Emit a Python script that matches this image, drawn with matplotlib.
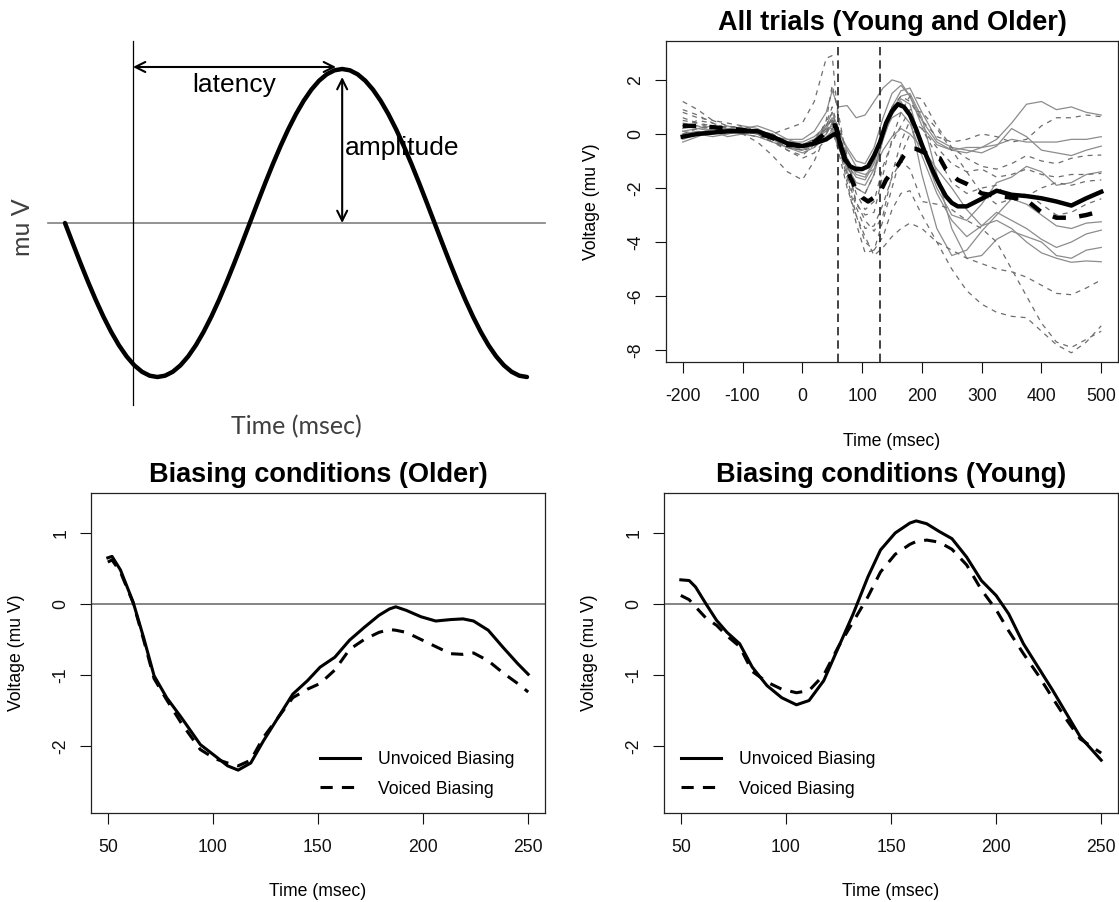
import matplotlib
matplotlib.use('Agg')
import matplotlib.pyplot as plt

plt.rcParams['font.family'] = ['Liberation Sans', 'DejaVu Sans']
plt.rcParams['axes.unicode_minus'] = False

# ---------------- data ----------------

# schematic ERP wave (top left), sampled every 7.5 degrees of phase
schematic_wave = [0, -0.1305, -0.2588, -0.3827, -0.5, -0.6088, -0.7071, -0.7934, -0.866, -0.9239,
                  -0.9659, -0.9914, -1, -0.9914, -0.9659, -0.9239, -0.866, -0.7934, -0.7071, -0.6088,
                  -0.5, -0.3827, -0.2588, -0.1305, 0, 0.1305, 0.2588, 0.3827, 0.5, 0.6088, 0.7071,
                  0.7934, 0.866, 0.9239, 0.9659, 0.9914, 1, 0.9914, 0.9659, 0.9239, 0.866, 0.7934,
                  0.7071, 0.6088, 0.5, 0.3827, 0.2588, 0.1305, 0, -0.1305, -0.2588, -0.3827, -0.5,
                  -0.6088, -0.7071, -0.7934, -0.866, -0.9239, -0.9659, -0.9914, -1]
schematic_onset = 8.83

# all trials (top right)
trial_time = [-200, -175, -150, -125, -100, -75, -50, -25, 0, 20, 40, 50, 60, 75, 90, 105, 120,
              135, 150, 165, 180, 200, 225, 250, 275, 300, 325, 350, 375, 400, 425, 450, 475, 500]

young_trials = [
    [0.1, 0.2, 0.3, 0.2, 0.1, 0.0, -0.1, -0.2, -0.2, 0.1, 0.8, 1.6, 1.0, 1.05, 0.6, 0.7, 1.2, 1.7, 2.0, 1.9, 1.4, 0.5, -0.3, -0.6, -0.7, -0.5, -0.2, 0.4, 1.1, 1.2, 0.9, 1.0, 0.8, 0.7],
    [-0.2, 0.0, 0.2, 0.3, 0.1, 0.0, -0.2, -0.3, -0.3, -0.1, 0.3, 0.5, 0.1, -0.5, -1.0, -1.1, -0.5, 0.6, 1.5, 1.8, 1.4, 0.3, -0.4, -0.6, -0.5, -0.5, -0.4, -0.2, -0.3, -0.3, -0.3, -0.2, -0.2, -0.1],
    [0.3, 0.2, 0.1, 0.2, 0.2, 0.1, 0.0, -0.4, -0.5, -0.3, 0.2, 0.6, 0.0, -0.9, -1.5, -1.6, -1.0, 0.2, 1.0, 1.6, 1.7, 0.8, -0.2, -0.5, -0.6, -0.7, -0.45, 0.2, -0.1, -0.6, -0.7, -0.8, -0.6, -0.45],
    [-0.3, -0.1, 0.1, 0.0, 0.2, 0.3, 0.1, -0.2, -0.4, -0.2, 0.1, 0.3, -0.3, -1.2, -1.8, -1.9, -1.3, -0.2, 0.8, 1.3, 1.1, -0.5, -2.0, -3.0, -3.2, -2.6, -1.8, -1.6, -1.2, -1.4, -1.9, -1.8, -1.5, -1.4],
    [0.0, 0.1, 0.0, 0.1, 0.3, 0.2, -0.1, -0.3, -0.6, -0.4, 0.0, 0.4, -0.2, -1.4, -2.0, -2.2, -1.5, -0.2, 0.7, 1.2, 0.6, -1.5, -3.5, -4.5, -4.3, -3.6, -3.0, -2.4, -2.6, -3.0, -3.4, -3.5, -3.3, -3.25],
    [0.2, 0.3, 0.1, -0.1, 0.0, 0.1, -0.2, -0.4, -0.4, -0.2, 0.2, 0.2, -0.4, -1.1, -1.6, -1.7, -1.1, 0.0, 0.6, 0.8, 0.4, -0.8, -2.2, -3.2, -3.8, -3.4, -2.9, -3.2, -3.5, -3.9, -4.2, -4.0, -3.7, -3.56],
    [-0.1, 0.0, 0.2, 0.1, 0.0, -0.1, -0.3, -0.5, -0.6, -0.3, 0.3, 0.8, 0.2, -0.6, -1.2, -1.3, -0.8, 0.1, 0.9, 1.4, 1.5, 0.6, -1.5, -3.5, -4.6, -4.5, -3.9, -3.6, -3.8, -4.0, -4.5, -4.6, -4.3, -4.2],
    [0.1, 0.0, -0.1, 0.0, 0.1, 0.0, -0.2, -0.5, -0.7, -0.5, -0.1, 0.1, -0.5, -1.0, -1.4, -1.5, -1.3, -0.6, -0.1, 0.2, 0.0, -0.5, -1.3, -2.0, -2.8, -3.4, -3.2, -3.5, -4.0, -4.4, -4.6, -4.75, -4.7, -4.73],
]

older_trials = [
    [1.2, 0.9, 0.5, 0.4, 0.3, 0.1, 0.0, 0.2, 0.4, 1.2, 2.8, 2.9, 0.5, -0.8, -2.0, -2.2, -1.5, 0.0, 1.0, 1.4, 1.2, 0.5, -0.1, -0.3, -0.2, 0.0, -0.1, -0.3, -0.2, 0.3, 0.6, 0.6, 0.7, 0.64],
    [0.8, 0.6, 0.5, 0.3, 0.2, 0.0, -0.3, -0.6, -0.8, -0.4, 0.5, 1.8, 0.8, -1.0, -2.6, -3.0, -2.9, -1.5, -0.2, 0.8, 1.4, 1.3, 0.3, -0.5, -0.9, -1.2, -1.3, -1.1, -0.8, -1.0, -1.1, -0.9, -0.8, -0.78],
    [0.5, 0.4, 0.3, 0.1, 0.0, -0.3, -0.8, -1.4, -1.7, -1.0, 0.0, 0.4, -0.3, -1.8, -3.3, -4.4, -4.3, -3.2, -2.0, -0.8, 0.0, 0.2, -0.5, -1.1, -1.4, -1.3, -1.6, -1.5, -1.3, -1.5, -1.6, -1.5, -1.5, -1.46],
    [0.3, 0.5, 0.4, 0.2, 0.1, 0.0, -0.2, -0.5, -0.6, -0.3, 0.3, 0.8, 0.0, -1.2, -2.5, -3.2, -3.6, -3.0, -1.5, -0.3, 0.5, 0.2, -0.8, -1.8, -2.2, -2.0, -1.9, -2.5, -2.3, -2.0, -1.8, -1.9, -1.75, -1.7],
    [0.6, 0.4, 0.2, 0.3, 0.2, 0.1, -0.2, -0.6, -0.9, -0.7, -0.2, 0.2, -0.6, -2.0, -3.0, -3.8, -4.5, -4.2, -3.8, -3.5, -3.3, -3.5, -4.0, -4.3, -4.6, -4.8, -5.0, -5.1, -5.3, -5.6, -5.9, -5.95, -5.7, -5.4],
    [0.9, 0.7, 0.4, 0.2, 0.2, 0.0, -0.3, -0.5, -0.6, -0.5, 0.1, 0.5, -0.4, -1.6, -3.0, -4.0, -4.3, -3.8, -2.8, -2.2, -2.1, -3.0, -4.0, -5.0, -5.8, -6.3, -6.6, -6.75, -6.8, -7.3, -7.8, -8.1, -7.7, -7.1],
    [0.0, 0.2, 0.3, 0.2, 0.0, -0.1, -0.2, -0.4, -0.5, -0.3, 0.2, 0.6, -0.2, -1.5, -2.7, -3.5, -3.4, -2.6, -1.6, -1.0, -1.3, -2.5, -2.6, -2.8, -3.2, -3.5, -4.0, -5.0, -6.0, -7.0, -7.7, -7.9, -7.6, -7.3],
    [0.4, 0.3, 0.2, 0.3, 0.2, 0.1, 0.0, -0.3, -0.4, -0.2, 0.4, 1.0, 0.2, -1.0, -2.2, -2.8, -2.5, -1.2, -0.3, 0.3, 0.9, 0.8, 0.2, -0.6, -1.4, -2.2, -2.6, -2.4, -2.2, -2.6, -3.0, -2.9, -2.6, -2.4],
]

# grand averages on a finer time grid
mean_time = [-200, -175, -150, -125, -100, -75, -50, -25, 0, 20, 40, 50, 55, 60, 65, 70, 75, 80,
             90, 100, 110, 120, 130, 140, 150, 160, 170, 180, 190, 200, 210, 220, 230, 240, 250,
             260, 275, 300, 325, 350, 375, 400, 425, 450, 475, 500]
young_mean = [-0.1, 0.0, 0.05, 0.1, 0.1, 0.1, -0.1, -0.35, -0.45, -0.35, -0.2, -0.05, 0.0, -0.1,
              -0.5, -0.9, -1.05, -1.2, -1.3, -1.3, -1.2, -0.8, -0.3, 0.4, 0.85, 1.1, 1.0, 0.7, 0.2,
              -0.4, -0.95, -1.45, -1.9, -2.3, -2.55, -2.68, -2.68, -2.4, -2.1, -2.25, -2.3, -2.38,
              -2.5, -2.65, -2.38, -2.14]
older_mean = [0.3, 0.3, 0.25, 0.2, 0.15, 0.05, -0.15, -0.4, -0.45, -0.3, 0.05, 0.3, 0.32, 0.0,
              -0.5, -0.8, -1.3, -1.6, -2.05, -2.35, -2.5, -2.35, -2.15, -1.7, -1.4, -1.15, -0.8,
              -0.55, -0.55, -0.65, -0.75, -0.85, -0.9, -1.3, -1.5, -1.7, -1.85, -2.2, -2.3, -2.35,
              -2.45, -2.9, -3.1, -3.1, -3.0, -2.85]
window_edges = [60, 130]

# biasing conditions, older
older_time = [50, 52, 56, 62, 67, 72, 78, 85, 94, 101, 107, 112, 118, 124, 131, 138, 145, 151, 158,
              165, 172, 179, 184, 187, 192, 199, 206, 213, 219, 224, 231, 238, 245, 250]
older_unvoiced = [0.65, 0.67, 0.48, 0.03, -0.47, -1.01, -1.32, -1.6, -1.98, -2.14, -2.28, -2.34, -2.24,
                  -1.93, -1.6, -1.27, -1.08, -0.89, -0.75, -0.51, -0.33, -0.16, -0.07, -0.04, -0.09,
                  -0.18, -0.24, -0.22, -0.21, -0.24, -0.37, -0.61, -0.84, -0.99]
older_voiced = [0.59, 0.62, 0.45, 0.02, -0.5, -1.05, -1.35, -1.68, -2.05, -2.18, -2.24, -2.28, -2.2,
                -1.88, -1.6, -1.32, -1.2, -1.12, -0.93, -0.64, -0.5, -0.4, -0.36, -0.37, -0.4, -0.5,
                -0.6, -0.7, -0.71, -0.69, -0.8, -0.97, -1.12, -1.24]

# biasing conditions, young
young_time = [50, 54, 57, 62, 67, 72, 78, 84, 91, 98, 105, 111, 118, 125, 132, 139, 145, 152, 159,
              162, 167, 173, 179, 186, 193, 200, 206, 213, 220, 227, 234, 240, 250]
young_unvoiced = [0.34, 0.33, 0.24, 0.0, -0.23, -0.4, -0.56, -0.89, -1.15, -1.32, -1.42, -1.36, -1.08,
                  -0.61, -0.14, 0.38, 0.76, 1.0, 1.14, 1.17, 1.13, 1.02, 0.92, 0.66, 0.33, 0.12, -0.14,
                  -0.56, -0.89, -1.22, -1.57, -1.87, -2.2]
young_voiced = [0.12, 0.06, -0.04, -0.2, -0.3, -0.45, -0.6, -0.95, -1.1, -1.2, -1.25, -1.22, -1.0,
                -0.6, -0.25, 0.1, 0.45, 0.7, 0.84, 0.88, 0.9, 0.87, 0.77, 0.55, 0.2, -0.08, -0.38,
                -0.7, -1.0, -1.33, -1.65, -1.9, -2.1]

# ---------------- figure ----------------

W, H = 1119, 902
fig = plt.figure(figsize=(W / 100, H / 100), dpi=100)


def box(l, t, r, b):
    return [l / W, 1 - b / H, (r - l) / W, (b - t) / H]


def r_style(ax, xticks, yticks, title, w_px, h_px):
    # base R look: box, outward ticks, vertical y tick labels
    ax.set_xticks(xticks)
    ax.set_yticks(yticks)
    ax.tick_params(direction='out', length=8, width=0.8, labelsize=12.7, colors='#111111')
    ax.tick_params(axis='x', pad=10.5)
    ax.tick_params(axis='y', pad=7.5)
    for lab in ax.get_yticklabels():
        lab.set_rotation(90)
        lab.set_va('center')
    for s in ax.spines.values():
        s.set_linewidth(0.9)
        s.set_color('#222222')
    ax.set_title(title, fontsize=19.5, fontweight='bold', pad=7.8)
    ax.set_xlabel('Time (msec)', fontsize=12.7, va='center')
    ax.set_ylabel('Voltage (mu V)', fontsize=12.7, va='center')
    ax.xaxis.set_label_coords(0.5, -79 / h_px)
    ax.yaxis.set_label_coords(-74 / w_px, 0.5)


# ---- top left: schematic ----
ax0 = fig.add_axes(box(0, 0, 560, 440))
ax0.set_xlim(-8.44, 64.29)
ax0.set_ylim(-1.409, 1.448)
ax0.axis('off')
k = list(range(len(schematic_wave)))
peak_k = k[schematic_wave.index(max(schematic_wave))]
ax0.plot([-2.21, 62.34], [0, 0], color='#808080', lw=1.2)
ax0.plot([schematic_onset, schematic_onset], [-1.18, 1.18], color='black', lw=0.9)
ax0.plot(k, schematic_wave, color='black', lw=3.2, solid_joinstyle='round', solid_capstyle='round')
ax0.annotate('', xy=(peak_k - 0.8, 1.013), xytext=(schematic_onset, 1.013),
             arrowprops=dict(arrowstyle='<->', lw=1.5, color='black', shrinkA=0, shrinkB=0,
                             mutation_scale=18))
ax0.annotate('', xy=(peak_k, 0), xytext=(peak_k, 0.948),
             arrowprops=dict(arrowstyle='<->', lw=1.5, color='black', shrinkA=0, shrinkB=0,
                             mutation_scale=18))
ax0.text(21.95, 0.896, 'latency', fontsize=19, ha='center', va='center')
ax0.text(peak_k + 0.4, 0.49, 'amplitude', fontsize=19, ha='left', va='center')
ax0.text(-5.5, -0.03, 'mu V', fontsize=18, family='Lato', color='#404040', rotation=90,
         ha='center', va='center')
ax0.text(30.0, -1.32, 'Time (msec)', fontsize=18, family='Lato', color='#404040',
         ha='center', va='center')

# ---- top right: all trials ----
ax1 = fig.add_axes(box(666, 41, 1118, 362))
for tr in young_trials:
    ax1.plot(trial_time, tr, color='#8c8c8c', lw=0.9)
for tr in older_trials:
    ax1.plot(trial_time, tr, color='#6e6e6e', lw=0.9, ls=(0, (4, 4)))
for edge in window_edges:
    ax1.axvline(edge, color='#222222', lw=1.2, ls=(0, (5, 3)))
ax1.plot(mean_time, young_mean, color='black', lw=3.2, solid_joinstyle='round')
ax1.plot(mean_time, older_mean, color='black', lw=3.2, ls=(0, (3, 3)))
ax1.set_xlim(-228, 528)
ax1.set_ylim(-8.44, 3.44)
r_style(ax1, [-200, -100, 0, 100, 200, 300, 400, 500], [-8, -6, -4, -2, 0, 2],
        'All trials (Young and Older)', 452, 321)

# ---- bottom left: older ----
ax2 = fig.add_axes(box(91, 493, 545, 813))
ax2.axhline(0, color='#707070', lw=1.2)
ax2.plot(older_time, older_unvoiced, color='black', lw=2.2, label='Unvoiced Biasing')
ax2.plot(older_time, older_voiced, color='black', lw=2.2, ls=(0, (4, 3)), label='Voiced Biasing')
ax2.set_xlim(42, 258)
ax2.set_ylim(-2.944, 1.563)
r_style(ax2, [50, 100, 150, 200, 250], [-2, -1, 0, 1], 'Biasing conditions (Older)', 454, 320)
ax2.legend(loc='upper left', bbox_to_anchor=(0.504, 0.193), frameon=False, fontsize=12.7,
           handlelength=2.3, handletextpad=1.0, labelspacing=0.7, borderpad=0, borderaxespad=0)

# ---- bottom right: young ----
ax3 = fig.add_axes(box(664, 493, 1118, 813))
ax3.axhline(0, color='#707070', lw=1.2)
ax3.plot(young_time, young_unvoiced, color='black', lw=2.2, label='Unvoiced Biasing')
ax3.plot(young_time, young_voiced, color='black', lw=2.2, ls=(0, (4, 3)), label='Voiced Biasing')
ax3.set_xlim(42, 258)
ax3.set_ylim(-2.944, 1.563)
r_style(ax3, [50, 100, 150, 200, 250], [-2, -1, 0, 1], 'Biasing conditions (Young)', 454, 320)
ax3.legend(loc='upper left', bbox_to_anchor=(0.037, 0.193), frameon=False, fontsize=12.7,
           handlelength=2.3, handletextpad=1.0, labelspacing=0.7, borderpad=0, borderaxespad=0)

fig.savefig('out.png', dpi=100)
